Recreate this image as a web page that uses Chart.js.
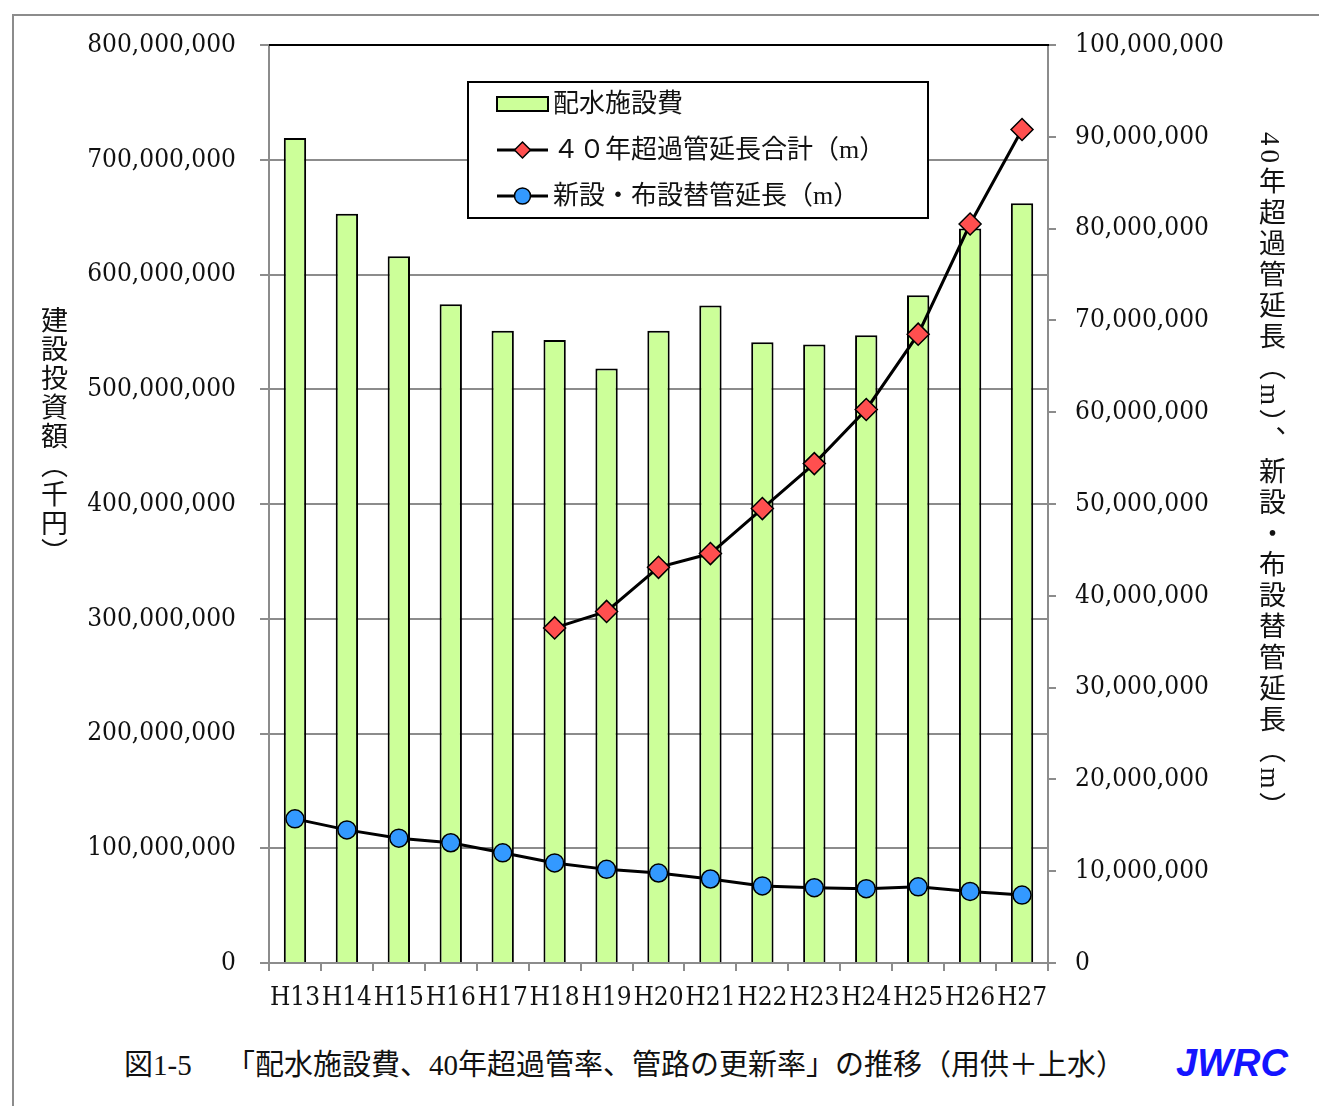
<!DOCTYPE html>
<html lang="ja">
<head>
<meta charset="utf-8">
<title>配水施設費、40年超過管率、管路の更新率の推移</title>
<script src="https://cdn.jsdelivr.net/npm/chart.js@4.4.1/dist/chart.umd.min.js"></script>
<style>
  html, body { margin: 0; padding: 0; background: #fff; }
  body { position: relative; width: 1319px; height: 1106px; overflow: hidden; }
  .frame {
    position: absolute; left: 12px; top: 14px; width: 1400px; height: 1200px;
    border-top: 2px solid #8c8c8c; border-left: 2px solid #8c8c8c;
  }
  #chart { position: absolute; left: 0; top: 0; }
  .vtitle {
    position: absolute; writing-mode: vertical-rl; color: #111;
    font-family: "Liberation Serif", "Noto Sans CJK JP", serif;
    font-size: 27px; line-height: 27px; white-space: nowrap;
  }
  .vtitle.left  { left: 38px;   top: 306px; letter-spacing: 2px; }
  .vtitle.right { left: 1256px; top: 132px; letter-spacing: 4px; }
  .caption {
    position: absolute; top: 1048px; color: #111; white-space: nowrap;
    font-family: "Liberation Serif", "Noto Sans CJK JP", serif;
    font-size: 29px; line-height: 34px;
  }
  .logo {
    position: absolute; left: 1176px; top: 1041px; color: #1414ff;
    font-family: "Liberation Sans", Arial, sans-serif;
    font-weight: bold; font-style: italic; font-size: 38px; line-height: 44px;
  }
</style>
</head>
<body>
<div class="frame"></div>
<canvas id="chart" width="1319" height="1040"></canvas>
<div class="vtitle left">建設投資額（千円）</div>
<div class="vtitle right">40年超過管延長（m）、新設・布設替管延長（m）</div>
<div class="caption" style="left:124px">図1-5</div>
<div class="caption" style="left:226px">「配水施設費、40年超過管率、管路の更新率」の推移（用供＋上水）</div>
<div class="logo">JWRC</div>

<script>
/* ── data ── */
const years = ['H13', 'H14', 'H15', 'H16', 'H17', 'H18', 'H19', 'H20',
               'H21', 'H22', 'H23', 'H24', 'H25', 'H26', 'H27'];

// 配水施設費 (千円) — left axis
const facilityCost = [719e6, 653e6, 616e6, 574e6, 551e6, 543e6, 518e6, 551e6,
                      573e6, 541e6, 539e6, 547e6, 582e6, 640e6, 662e6];

// ４０年超過管延長合計 (m) — right axis, starts at H18
const over40Length = [null, null, null, null, null, 36.5e6, 38.3e6, 43.1e6,
                      44.6e6, 49.5e6, 54.4e6, 60.3e6, 68.5e6, 80.5e6, 90.8e6];

// 新設・布設替管延長 (m) — right axis
const renewLength = [15.7e6, 14.5e6, 13.6e6, 13.1e6, 12.0e6, 10.9e6, 10.2e6, 9.8e6,
                     9.15e6, 8.4e6, 8.2e6, 8.1e6, 8.3e6, 7.8e6, 7.4e6];

const seriesLabels = ['配水施設費', '４０年超過管延長合計（m）', '新設・布設替管延長（m）'];

/* ── style ── */
const GRID = '#8c8c8c';
const TEXT = '#111';
const TICK_FONT = { family: '"DejaVu Serif Condensed", "Liberation Serif", serif', size: 26 };
const fmt = v => Number(v).toLocaleString('en-US');

/* top frame line + boxed legend inside the plot */
const plotDecor = {
  id: 'plotDecor',
  afterDraw(chart) {
    const { ctx, chartArea: a } = chart;
    ctx.save();
    ctx.strokeStyle = '#000';
    ctx.lineWidth = 2;
    ctx.beginPath();
    ctx.moveTo(a.left, a.top);
    ctx.lineTo(a.right + 1, a.top);
    ctx.stroke();

    const lx = a.left + 199, ly = a.top + 37, lw = 460, lh = 136;
    ctx.fillStyle = '#fff';
    ctx.fillRect(lx, ly, lw, lh);
    ctx.strokeRect(lx, ly, lw, lh);

    ctx.font = '26px "Liberation Serif", "Noto Sans CJK JP", serif';
    ctx.textBaseline = 'middle';
    chart.data.datasets.forEach((ds, i) => {
      const y = ly + 22 + i * 46;
      const sx = lx + 29, ex = lx + 80, mx = (sx + ex) / 2;
      if (ds.type === 'line') {
        ctx.strokeStyle = ds.borderColor;
        ctx.lineWidth = 3;
        ctx.beginPath(); ctx.moveTo(sx, y); ctx.lineTo(ex, y); ctx.stroke();
        ctx.fillStyle = ds.pointBackgroundColor;
        ctx.lineWidth = 1.5;
        ctx.beginPath();
        if (ds.pointStyle === 'rectRot') {
          const r = 8;
          ctx.moveTo(mx - r, y); ctx.lineTo(mx, y - r);
          ctx.lineTo(mx + r, y); ctx.lineTo(mx, y + r); ctx.closePath();
        } else {
          ctx.arc(mx, y, 8, 0, Math.PI * 2);
        }
        ctx.fill(); ctx.stroke();
      } else {
        ctx.fillStyle = ds.backgroundColor;
        ctx.fillRect(sx, y - 7, ex - sx, 14);
        ctx.strokeStyle = ds.borderColor;
        ctx.lineWidth = 2;
        ctx.strokeRect(sx, y - 7, ex - sx, 14);
      }
      ctx.fillStyle = TEXT;
      ctx.fillText(ds.label, lx + 85, y + 1);
    });
    ctx.restore();
  }
};

new Chart(document.getElementById('chart'), {
  type: 'bar',
  data: {
    labels: years,
    datasets: [
      {
        type: 'bar',
        label: seriesLabels[0],
        data: facilityCost,
        yAxisID: 'y',
        backgroundColor: '#ccff99',
        borderColor: '#000',
        borderWidth: 2,
        barPercentage: 0.43,
        categoryPercentage: 1,
        order: 3,
      },
      {
        type: 'line',
        label: seriesLabels[1],
        data: over40Length,
        yAxisID: 'y1',
        borderColor: '#000',
        borderWidth: 3,
        tension: 0,
        pointStyle: 'rectRot',
        pointRadius: 11,
        pointBackgroundColor: '#ff4f4f',
        pointBorderColor: '#000',
        pointBorderWidth: 1.5,
        order: 1,
      },
      {
        type: 'line',
        label: seriesLabels[2],
        data: renewLength,
        yAxisID: 'y1',
        borderColor: '#000',
        borderWidth: 3,
        tension: 0,
        pointStyle: 'circle',
        pointRadius: 9,
        pointBackgroundColor: '#3399ff',
        pointBorderColor: '#000',
        pointBorderWidth: 1.5,
        order: 2,
      },
    ],
  },
  options: {
    responsive: false,
    animation: false,
    layout: { padding: { top: 45, left: 0, right: 0, bottom: 0 } },
    plugins: { legend: { display: false }, tooltip: { enabled: false } },
    scales: {
      x: {
        afterFit: s => { s.height = 77; },
        grid: { offset: true, drawOnChartArea: false, drawTicks: true, tickLength: 8, color: GRID, lineWidth: 2 },
        border: { color: GRID, width: 2 },
        ticks: { color: TEXT, font: TICK_FONT, autoSkip: false, maxRotation: 0, padding: 12 },
      },
      y: {
        position: 'left',
        min: 0, max: 800e6,
        afterFit: s => { s.width = 269; },
        grid: { color: GRID, lineWidth: 2, tickLength: 9 },
        border: { color: GRID, width: 2 },
        ticks: { stepSize: 100e6, color: TEXT, font: TICK_FONT, padding: 24, callback: fmt },
      },
      y1: {
        position: 'right',
        min: 0, max: 100e6,
        afterFit: s => { s.width = 271; },
        grid: { drawOnChartArea: false, color: GRID, lineWidth: 2, tickLength: 8 },
        border: { color: GRID, width: 2 },
        ticks: { stepSize: 10e6, color: TEXT, font: TICK_FONT, padding: 19, callback: fmt },
      },
    },
  },
  plugins: [plotDecor],
});
</script>
</body>
</html>
